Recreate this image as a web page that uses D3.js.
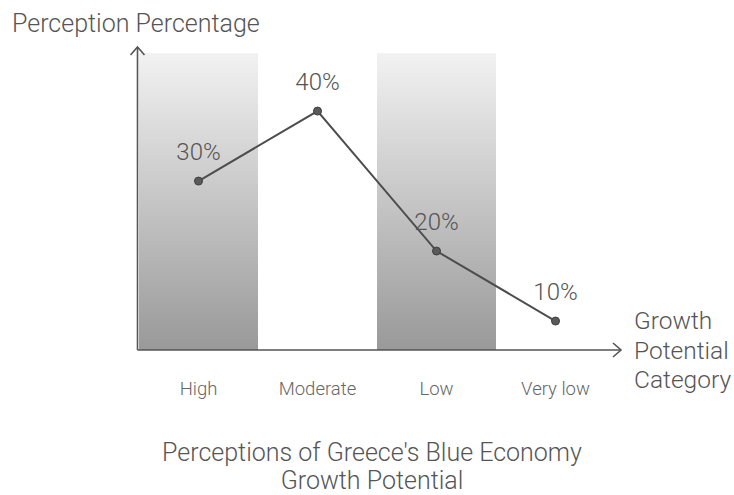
<!DOCTYPE html>
<html>
<head>
<meta charset="utf-8">
<script src="https://cdn.jsdelivr.net/npm/d3@7"></script>
<style>
  body { margin: 0; background: #fff; }
  text { font-family: Roboto, "Open Sans", sans-serif; }
</style>
</head>
<body>
<div id="vis"></div>
<script>
// chart data
const categories = ["High", "Moderate", "Low", "Very low"];
const values = [30, 40, 20, 10];
const valueLabels = ["30%", "40%", "20%", "10%"];
const shadedCategories = ["High", "Low"];

const width = 734, height = 495;
const x0 = 137.5, yAxis = 350;

const svg = d3.select("#vis")
    .append("svg")
    .attr("width", width)
    .attr("height", height);

const x = d3.scaleBand()
    .domain(categories)
    .range([139, 615])
    .padding(0);

const y = d3.scaleLinear()
    .domain([5.86, 48.3])
    .range([350, 53]);

// gradient for the shaded columns
const defs = svg.append("defs");
const grad = defs.append("linearGradient")
    .attr("id", "bandGrad")
    .attr("x1", 0).attr("y1", 0).attr("x2", 0).attr("y2", 1);
grad.append("stop").attr("offset", "0%").attr("stop-color", "#f2f2f2");
grad.append("stop").attr("offset", "100%").attr("stop-color", "#999");

svg.selectAll("rect.band")
    .data(shadedCategories)
    .join("rect")
    .attr("class", "band")
    .attr("x", d => x(d))
    .attr("y", y.range()[1])
    .attr("width", x.bandwidth())
    .attr("height", y.range()[0] - y.range()[1])
    .style("fill", "url(#bandGrad)");

// axes with open arrow heads
const axisColor = "#555";
svg.append("line")
    .attr("x1", x0).attr("y1", yAxis)
    .attr("x2", x0).attr("y2", 47)
    .style("stroke", axisColor).style("stroke-width", 1.6);
svg.append("path")
    .attr("d", `M${x0 - 7},${55} L${x0},${47} L${x0 + 7},${55}`)
    .style("fill", "none").style("stroke", axisColor).style("stroke-width", 1.6);
svg.append("line")
    .attr("x1", x0).attr("y1", yAxis)
    .attr("x2", 621).attr("y2", yAxis)
    .style("stroke", axisColor).style("stroke-width", 1.6);
svg.append("path")
    .attr("d", `M613,${yAxis - 7} L621,${yAxis} L613,${yAxis + 7}`)
    .style("fill", "none").style("stroke", axisColor).style("stroke-width", 1.6);

// data line
const pts = categories.map((c, i) => ({ cat: c, v: values[i], label: valueLabels[i] }));
const line = d3.line()
    .x(d => x(d.cat) + x.bandwidth() / 2)
    .y(d => y(d.v));

svg.append("path")
    .datum(pts)
    .attr("d", line)
    .style("fill", "none")
    .style("stroke", "#4d4d4d")
    .style("stroke-width", 2);

svg.selectAll("circle.pt")
    .data(pts)
    .join("circle")
    .attr("class", "pt")
    .attr("cx", d => x(d.cat) + x.bandwidth() / 2)
    .attr("cy", d => y(d.v))
    .attr("r", 4)
    .style("fill", "#5a5a5a")
    .style("stroke", "#3f3f3f")
    .style("stroke-width", 1);

svg.selectAll("text.val")
    .data(pts)
    .join("text")
    .attr("class", "val")
    .attr("x", d => x(d.cat) + x.bandwidth() / 2)
    .attr("y", d => y(d.v) - 21)
    .attr("text-anchor", "middle")
    .style("font-size", "24px")
    .style("font-weight", 300)
    .style("fill", "#555")
    .text(d => d.label);

// category labels
svg.selectAll("text.cat")
    .data(categories)
    .join("text")
    .attr("class", "cat")
    .attr("x", d => x(d) + x.bandwidth() / 2)
    .attr("y", 395)
    .attr("text-anchor", "middle")
    .style("font-size", "18.5px")
    .style("font-weight", 300)
    .style("fill", "#666")
    .text(d => d);

// axis titles
svg.append("text")
    .attr("x", 12)
    .attr("y", 32)
    .style("font-size", "25px")
    .style("font-weight", 300)
    .style("fill", "#555")
    .text("Perception Percentage");

svg.append("text")
    .attr("x", 634)
    .attr("y", 329)
    .style("font-size", "24.5px")
    .style("font-weight", 300)
    .style("fill", "#555")
    .selectAll("tspan")
    .data(["Growth", "Potential", "Category"])
    .join("tspan")
    .attr("x", 634)
    .attr("dy", (d, i) => i === 0 ? 0 : 29.5)
    .text(d => d);

// chart title
svg.append("text")
    .attr("x", 372)
    .attr("y", 461)
    .attr("text-anchor", "middle")
    .style("font-size", "25px")
    .style("font-weight", 300)
    .style("fill", "#555")
    .selectAll("tspan")
    .data(["Perceptions of Greece's Blue Economy", "Growth Potential"])
    .join("tspan")
    .attr("x", 372)
    .attr("dy", (d, i) => i === 0 ? 0 : 28)
    .text(d => d);
</script>
</body>
</html>
